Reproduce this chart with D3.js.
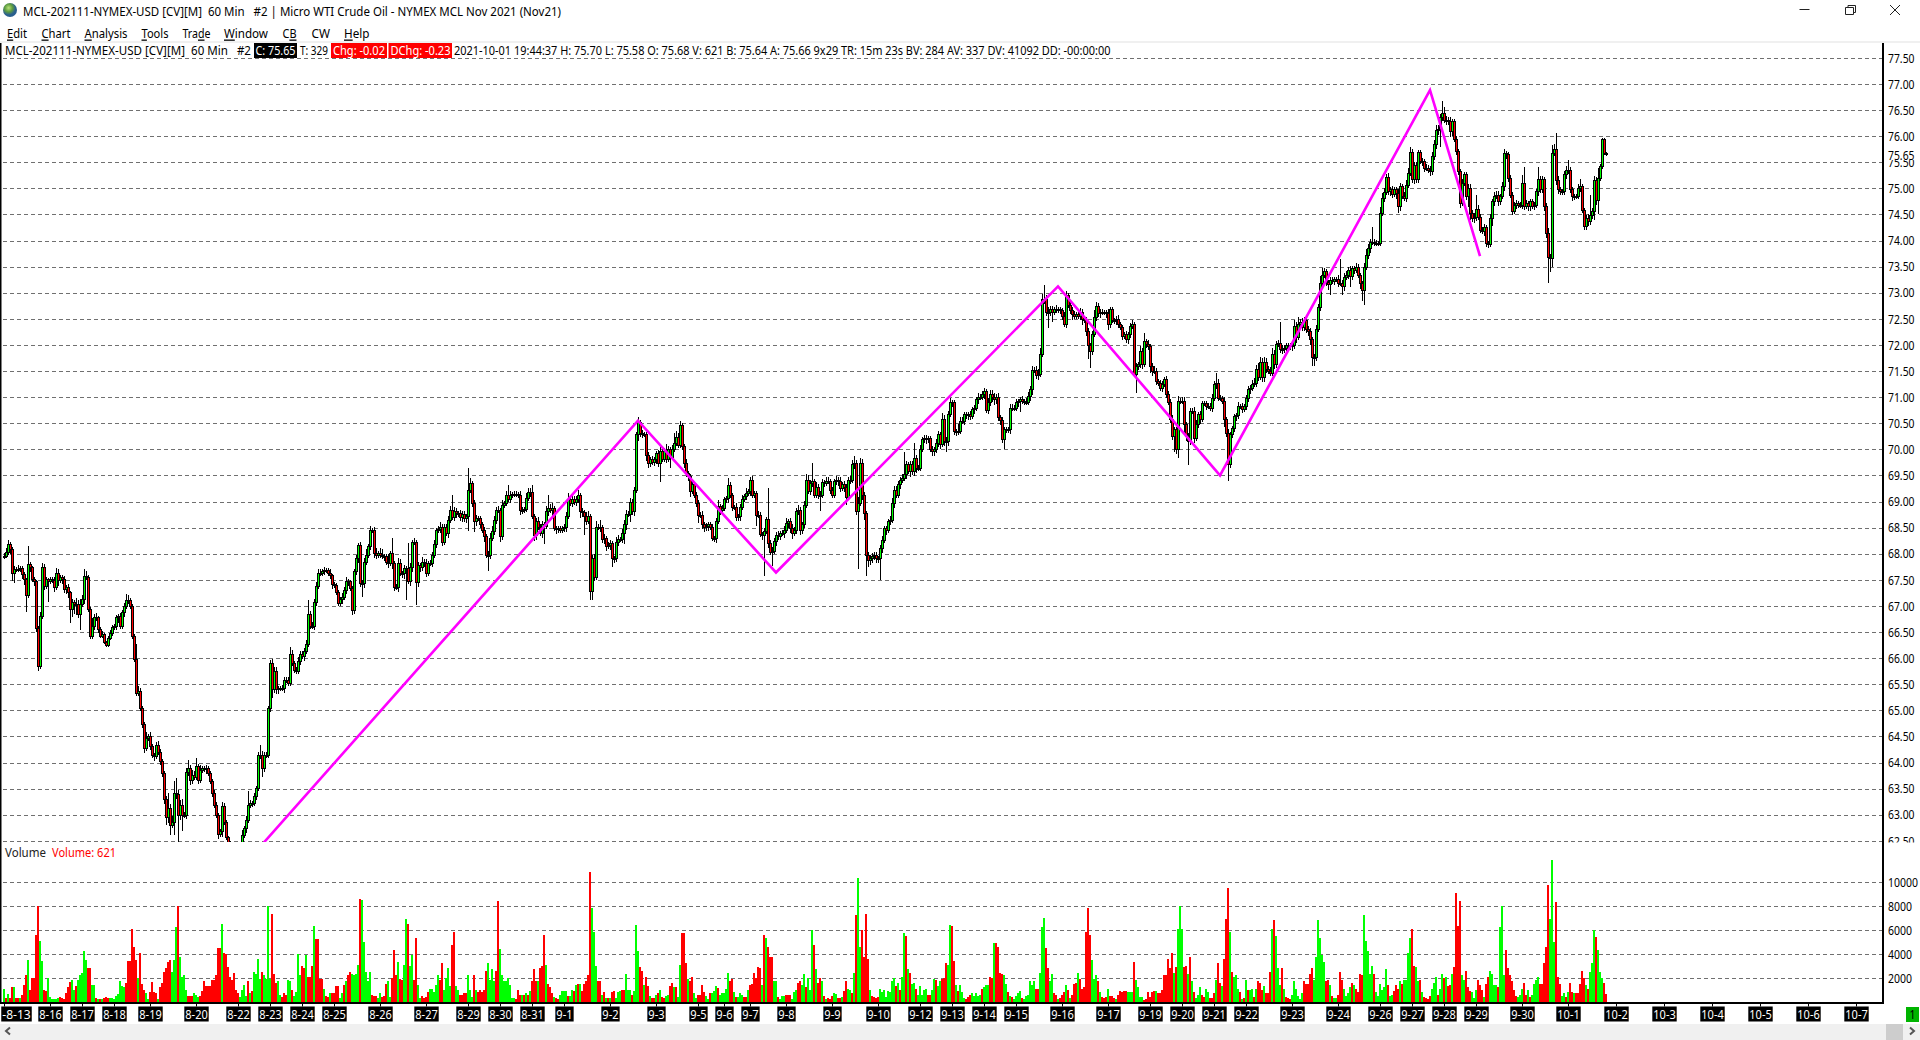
<!DOCTYPE html>
<html lang="en">
<head>
<meta charset="UTF-8">
<title>MCL-202111-NYMEX-USD 60 Min</title>
<script src="https://d3js.org/d3.v7.min.js"></script>
<style>
  html, body { margin: 0; padding: 0; background: #fff; overflow: hidden; }
  svg { display: block; }
  text { font-family: "Noto Sans", "Open Sans", sans-serif; font-size: 13px; fill: #000; white-space: pre; }
  .grid line { stroke: #707070; stroke-dasharray: 4 3; shape-rendering: crispEdges; }
  .grid path { display: none; }
</style>
</head>
<body>
<svg width="1920" height="1040"></svg>
<script>
// closing price of every 60 min bar, 20 per line
const closes = [
67.95,68.02,68.18,68.08,67.63,67.70,67.70,67.70,67.71,67.60,67.50,67.20,67.79,67.73,67.50,67.47,66.56,65.84,66.80,67.73,
67.38,67.50,67.47,67.50,67.49,67.35,67.63,67.49,67.54,67.50,67.31,67.35,67.25,66.93,67.06,67.03,67.03,66.83,67.03,67.12,
67.57,67.54,66.93,66.42,66.61,66.77,66.77,66.54,66.42,66.45,66.30,66.24,66.38,66.48,66.58,66.61,66.77,66.79,66.61,66.87,
66.99,67.10,67.10,66.99,66.42,65.97,65.33,65.36,65.04,64.72,64.27,64.46,64.49,64.30,64.14,64.11,64.33,64.20,64.01,63.79,
63.29,62.95,63.11,62.79,62.86,63.40,63.39,62.99,63.18,62.99,62.99,63.80,63.88,63.66,63.76,63.72,63.92,63.66,63.85,63.88,
63.86,63.88,63.79,63.63,63.40,63.18,62.99,62.62,62.67,63.16,62.86,62.57,62.44,62.30,62.20,62.15,62.20,62.30,62.40,62.60,
62.73,62.89,63.18,63.21,63.21,63.34,63.50,64.14,64.14,63.88,64.14,64.14,65.04,65.90,65.39,65.74,65.39,65.42,65.42,65.42,
65.58,65.58,65.52,66.06,65.90,65.77,65.74,65.94,66.06,66.03,66.13,66.26,66.83,66.61,66.61,67.06,67.38,67.62,67.62,67.65,
67.68,67.68,67.63,67.58,67.41,67.39,67.26,67.04,67.12,67.17,67.30,67.47,67.46,67.33,66.91,67.65,67.90,68.16,67.42,67.42,
67.84,67.97,68.13,68.45,68.45,68.00,67.97,68.00,67.97,67.94,67.95,67.84,67.81,68.00,67.81,67.36,67.36,67.81,67.62,67.62,
67.71,67.71,67.46,67.74,68.22,68.22,67.44,67.78,67.74,67.84,67.81,67.63,67.81,67.82,67.97,68.18,68.44,68.46,68.51,68.22,
68.51,68.39,68.64,68.82,68.69,68.80,68.77,68.77,68.69,68.76,68.67,68.72,69.22,69.35,68.97,68.61,68.67,68.67,68.55,68.45,
68.32,67.97,67.97,68.29,68.42,68.64,68.83,68.83,68.32,68.93,68.96,69.12,69.04,69.12,69.14,69.14,69.14,69.12,68.82,68.83,
68.85,69.06,69.17,69.17,68.72,68.35,68.61,68.51,68.39,68.55,68.53,68.80,68.87,68.83,68.87,68.48,68.46,68.48,68.45,68.48,
68.50,68.71,69.04,68.97,69.03,68.99,69.03,69.12,68.80,68.78,68.71,68.61,68.71,67.28,67.90,67.55,68.50,68.50,68.50,68.27,
68.29,68.14,68.16,68.19,67.90,67.90,68.22,68.27,68.27,68.39,68.55,68.76,68.76,68.99,68.80,69.22,70.28,70.51,70.31,70.28,
70.28,69.89,69.72,69.80,69.74,69.80,69.92,69.73,69.96,69.81,69.96,69.81,69.99,69.85,69.99,70.12,70.23,70.08,70.45,70.05,
69.73,69.53,69.48,69.19,69.32,69.12,68.96,68.74,68.74,68.55,68.51,68.53,68.55,68.51,68.29,68.29,68.61,68.90,68.83,68.87,
69.03,69.06,69.30,69.12,68.89,68.89,68.69,68.71,68.89,69.04,69.09,69.16,69.19,69.41,69.12,69.16,68.74,68.74,68.37,68.35,
68.42,68.66,68.19,68.03,68.05,68.23,68.35,68.32,68.39,68.39,68.45,68.58,68.61,68.48,68.39,68.45,68.80,68.83,68.44,68.55,
68.93,69.41,69.19,69.35,69.38,69.12,69.27,69.12,69.12,69.36,69.35,69.38,69.38,69.22,69.12,69.38,69.41,69.38,69.25,69.32,
69.27,69.08,69.41,69.41,69.70,69.73,68.80,68.96,69.73,69.12,68.77,67.97,67.87,67.90,67.94,67.97,67.90,67.90,68.10,68.26,
68.48,68.45,68.61,68.64,68.96,69.22,69.12,69.32,69.41,69.44,69.51,69.70,69.57,69.70,69.57,69.83,69.64,69.64,69.99,70.18,
70.21,70.18,70.21,70.00,69.96,69.99,70.12,70.28,70.10,70.58,70.15,70.15,70.66,70.89,70.89,70.34,70.34,70.34,70.53,70.53,
70.66,70.64,70.66,70.63,70.76,70.79,70.95,71.00,71.00,71.05,71.10,70.75,70.90,71.05,71.00,70.95,71.00,70.60,70.55,70.18,
70.37,70.37,70.37,70.79,70.79,70.79,70.89,70.92,70.95,70.92,70.90,70.89,71.01,71.14,71.51,71.51,71.41,71.43,71.82,72.87,
72.87,72.62,72.62,72.67,72.63,72.67,72.68,72.67,72.65,72.55,72.39,72.94,72.76,72.65,72.58,72.55,72.58,72.55,72.63,72.49,
72.46,72.26,71.98,71.88,72.20,72.52,72.74,72.60,72.63,72.62,72.62,72.60,72.39,72.67,72.46,72.46,72.49,72.39,72.33,72.17,
72.20,72.10,72.20,72.36,72.39,71.43,71.59,71.62,71.88,71.62,72.07,72.01,71.96,71.59,71.49,71.49,71.30,71.27,71.17,71.24,
71.33,71.05,70.89,70.57,70.24,70.37,69.99,70.92,70.92,70.92,70.47,70.24,70.15,70.73,70.73,70.21,70.47,70.66,70.57,70.87,
70.87,70.82,70.82,70.79,70.98,71.24,71.27,70.98,70.98,70.92,70.57,70.31,69.70,70.28,70.39,70.63,70.64,70.82,70.82,70.76,
70.82,70.98,71.14,71.17,71.24,71.27,71.53,71.37,71.66,71.37,71.66,71.53,71.49,71.46,71.82,71.62,72.01,72.03,71.91,71.91,
71.94,71.98,71.98,71.96,71.98,72.36,72.14,72.39,72.42,72.33,72.46,72.30,72.26,72.10,71.75,71.75,72.30,72.72,73.17,73.33,
73.40,73.20,73.16,73.24,73.22,73.25,73.26,73.18,73.18,73.11,73.30,73.33,73.43,73.31,73.46,73.43,73.49,73.33,73.18,73.04,
73.49,73.72,73.85,73.97,73.97,73.95,73.95,73.95,74.52,74.81,74.92,75.21,74.93,74.97,74.89,74.97,74.90,74.65,75.03,74.85,
74.81,75.06,75.29,75.68,75.16,75.43,75.16,75.68,75.51,75.51,75.38,75.38,75.35,75.32,75.61,75.83,76.11,76.12,76.35,76.43,
76.30,76.30,76.28,76.09,76.28,75.93,75.70,75.32,74.71,75.10,75.26,74.84,75.00,74.52,74.42,74.44,74.60,74.45,74.20,74.17,
74.25,73.94,73.93,74.42,74.74,74.85,74.87,74.74,74.84,75.03,75.67,75.64,75.19,74.87,74.55,74.68,74.71,74.68,74.68,75.10,
74.65,74.71,74.65,74.74,74.65,74.68,74.93,75.16,74.97,75.16,74.65,74.13,73.68,73.65,75.67,75.74,75.15,74.98,74.93,74.93,
75.26,75.35,75.35,74.97,74.84,74.84,74.84,75.00,75.03,74.57,74.26,74.42,74.36,74.47,74.55,75.15,74.76,75.19,75.42,75.94,
75.67,75.65
];

// wick length above the body, in cents
const upperWicks = [
6,8,8,5,4,6,5,8,5,5,4,3,35,5,4,6,3,5,8,10,
8,5,4,6,5,6,10,8,6,5,8,5,6,4,8,5,12,8,10,8,
13,10,6,5,15,8,10,3,5,6,3,3,5,5,5,4,5,5,8,5,
6,13,10,5,4,5,30,10,6,5,6,12,6,10,5,5,6,8,5,5,
5,6,30,10,12,25,30,8,10,12,6,10,16,8,10,8,16,6,10,5,
6,8,5,5,5,8,6,5,6,8,6,4,3,5,5,5,5,5,8,10,
5,8,28,8,6,8,5,6,20,8,6,6,5,6,8,8,8,5,5,6,
6,6,5,15,10,5,5,8,8,8,6,8,28,8,8,8,8,8,8,6,
6,5,5,8,4,5,4,5,5,8,6,8,5,3,5,6,8,5,6,8,
8,12,5,8,5,6,10,5,10,12,5,4,15,5,30,5,6,10,8,5,
8,5,50,8,5,8,5,6,5,10,5,8,5,6,6,8,6,8,10,5,
6,5,8,10,30,10,8,5,6,5,5,4,43,10,5,5,8,5,5,5,
6,5,8,10,12,8,6,8,5,10,5,8,20,8,5,6,6,5,8,6,
5,10,8,8,15,5,8,10,6,8,5,12,25,8,10,5,6,5,5,5,
6,8,12,6,10,8,8,10,5,8,6,8,10,5,8,10,12,6,15,5,
8,5,6,8,5,6,10,8,5,8,10,8,6,8,6,5,6,10,5,6,
5,5,5,5,8,6,5,6,10,8,6,15,8,6,10,20,12,8,10,5,
5,8,5,5,8,6,6,6,5,8,6,5,6,5,5,5,8,12,6,6,
6,5,15,8,5,5,8,6,6,8,6,10,5,6,8,5,5,8,6,5,
8,5,60,8,8,8,6,8,5,6,8,10,6,8,8,6,8,10,6,5,
8,12,10,6,35,6,10,6,8,8,6,8,8,5,6,6,8,5,8,6,
8,6,5,8,10,15,6,12,10,8,6,5,6,8,8,6,6,5,6,8,
5,6,6,8,10,8,8,8,5,8,43,8,6,8,8,30,6,6,10,6,
6,6,5,5,6,6,8,8,6,12,8,8,8,10,6,6,5,15,8,8,
5,5,6,8,5,6,5,8,5,6,8,6,8,8,8,8,6,8,5,6,
6,5,6,8,8,5,8,5,5,8,5,8,8,8,8,6,8,10,12,10,
27,8,10,8,8,6,8,5,5,5,8,10,6,8,8,6,5,5,8,6,
5,8,6,5,6,15,8,6,6,5,5,5,8,5,6,5,6,8,5,6,
5,6,5,6,8,5,6,5,10,6,15,5,8,5,6,10,6,5,5,6,
5,8,6,8,8,6,6,10,6,8,8,5,8,6,6,8,10,6,8,5,
5,6,6,6,8,6,20,8,6,5,8,5,8,6,5,5,5,8,5,6,
5,6,8,6,8,10,8,12,10,8,10,8,6,8,12,8,6,6,40,8,
6,6,5,5,8,12,8,15,8,10,8,8,6,6,5,8,8,6,15,15,
8,6,5,6,6,5,5,8,47,6,8,8,6,8,5,6,8,6,5,5,
8,12,8,6,29,5,6,5,12,10,8,6,8,5,8,5,6,8,8,6,
8,10,10,12,8,8,8,6,6,8,6,8,6,8,8,10,10,10,8,25,
12,8,6,8,5,5,8,6,5,8,6,6,8,8,6,8,27,8,6,5,
6,5,5,8,6,8,8,8,6,10,8,5,5,6,6,5,6,5,5,15,
30,6,5,5,5,6,6,25,8,8,6,6,10,6,15,10,32,8,5,5,
8,8,20,6,5,5,5,8,14,6,5,6,8,40,8,8,6,20,5,2,
2,2
];

// wick length below the body, in cents
const lowerWicks = [
5,3,5,8,15,20,6,5,5,8,10,32,5,8,5,8,6,8,5,6,
8,6,40,6,5,8,5,10,5,8,6,8,10,25,15,18,20,6,30,6,
8,5,5,5,5,8,5,5,3,3,3,3,3,3,5,5,8,10,5,6,
8,5,6,5,5,5,6,5,5,6,8,5,5,6,5,8,5,6,5,6,
8,15,10,18,5,25,8,58,10,30,6,8,6,10,8,6,5,8,5,5,
5,8,5,5,6,5,5,8,5,10,6,5,5,5,5,5,5,5,5,5,
5,8,5,5,6,5,6,5,8,15,6,5,5,8,15,6,8,8,5,5,
8,5,5,6,5,5,5,5,8,5,8,5,5,6,5,8,6,5,5,5,
6,5,5,6,8,5,6,5,5,8,6,8,8,5,8,6,5,8,6,25,
8,6,5,6,5,8,8,6,5,5,8,6,8,5,10,8,6,10,5,8,
10,60,5,8,10,6,43,8,10,8,6,8,5,5,8,6,8,5,6,8,
6,5,8,6,5,6,8,6,6,8,6,8,28,5,8,20,8,5,6,5,
10,6,30,8,5,6,8,5,10,5,5,5,5,6,5,5,5,6,8,6,
5,6,5,8,5,10,8,6,6,8,35,6,8,5,10,5,8,6,6,5,
6,8,5,6,8,5,8,6,12,8,35,6,5,17,17,8,5,5,8,6,
8,8,5,8,15,8,6,8,5,6,20,10,5,15,6,8,6,12,8,6,
5,12,8,6,5,6,8,6,35,6,5,8,6,20,6,5,6,5,6,6,
8,6,8,10,5,6,6,15,6,8,10,8,10,6,5,6,8,5,8,5,
5,5,8,6,8,5,6,6,8,5,5,6,6,8,5,6,20,6,5,8,
78,5,8,6,27,6,8,5,6,5,8,6,8,8,10,6,8,5,8,6,
5,5,5,6,8,5,6,8,30,6,8,6,5,8,6,5,6,8,6,5,
8,15,6,8,6,8,5,110,5,10,12,40,12,8,8,6,8,8,40,8,
6,10,5,6,5,8,6,6,8,6,5,8,5,10,6,8,10,5,6,5,
6,8,5,6,8,8,6,8,10,5,8,20,8,5,8,6,8,6,5,5,
6,5,8,6,5,8,6,8,5,6,8,5,8,8,10,10,8,6,8,5,
18,6,5,8,5,6,5,8,20,5,6,5,5,8,10,5,6,8,5,5,
8,6,30,6,20,6,5,5,6,8,5,6,5,5,10,6,5,6,8,10,
5,8,25,33,8,5,6,6,8,5,5,8,10,6,5,6,8,6,5,8,
5,6,8,6,6,5,35,8,6,8,5,6,6,12,8,5,6,5,6,8,
5,6,5,6,6,30,8,16,5,6,15,8,45,6,5,8,6,6,8,5,
5,6,5,6,8,5,8,5,6,6,15,8,30,5,6,5,8,6,5,6,
5,6,8,8,6,5,8,6,5,8,8,6,5,6,5,8,6,5,6,8,
6,5,5,6,8,6,10,5,8,6,6,8,8,10,15,15,5,5,8,6,
5,8,10,20,6,8,5,8,6,15,8,5,6,20,6,8,6,5,10,20,
28,6,8,8,5,5,6,5,6,6,8,5,6,8,8,6,10,12,8,5,
5,8,6,5,5,8,6,6,5,8,6,5,6,8,6,6,8,8,33,6,
5,8,6,10,8,5,6,6,8,5,5,6,20,12,6,8,6,5,6,5,
8,6,8,6,15,8,5,8,6,5,8,8,6,5,6,5,8,5,6,8,
6,5,8,8,5,6,6,8,6,6,8,8,50,25,15,5,8,8,5,6,
6,8,8,6,8,6,5,5,8,5,6,5,8,6,5,15,8,25,5,5,
4,3
];

// bar volume, negative = red bar, 20 per line
const signedVolumes = [
1050,-300,650,-350,-1250,1250,-350,-350,300,-550,-1400,-2250,3500,-1000,-2000,-2000,-5600,-8000,5100,3400,
-1000,-900,2000,400,200,200,200,350,-400,-300,-250,-700,-1200,-1650,1800,1000,-1300,1800,2200,2400,
4200,3500,-2800,-2800,1400,1400,-300,200,-200,200,-350,-400,-300,300,300,200,500,650,1700,1300,
1200,-1600,-3400,-3400,-6100,-4600,-3500,2000,-4100,-1500,-1000,700,250,-800,-1650,-800,-700,200,-1200,-1600,
-2500,-2800,-3300,-3500,2500,3500,6200,-8000,3700,2100,2200,1000,-500,-500,-500,700,600,400,-500,-900,
-1700,-1300,-1300,-1300,-1800,-1800,-2200,-4500,-4500,6500,-4100,-4000,-2900,-2100,-1800,-2400,-1000,-700,400,1000,
1400,500,-1700,700,-900,2500,2300,3600,1900,-2500,2200,1900,8000,1900,-7300,-2300,-1600,1700,550,-400,
-700,-550,1800,1700,-1000,450,850,4000,2200,-3000,-2800,3900,-2100,-2100,-3000,6300,-5200,-5200,-1900,-1900,
1100,-500,-400,700,-750,-750,-1350,-1350,350,750,-1400,1700,-2200,-2500,2300,2200,2300,3100,-8600,8500,
5000,2500,1700,2500,-600,-500,-450,300,750,-400,-450,-1500,1700,400,-2000,-4300,-2200,3300,-1900,-1800,
3100,6900,-6500,3000,3900,-1800,-5300,1400,300,-500,-300,-400,-800,1100,1100,800,1400,2200,-1800,-3200,
1000,2000,2800,1300,-4700,-5800,1300,1000,-600,-600,-700,-700,2200,1000,400,-2200,1000,-800,-1000,-800,
-1000,-2600,3200,1800,2700,1700,-2600,-8400,4400,2200,1700,1700,2000,1400,350,300,-250,-1000,-600,600,
-600,700,-600,900,-1700,-2700,-1700,1700,-2800,-3000,-5600,3100,-1500,-1200,-700,400,-300,-200,600,900,
900,900,-500,500,1000,-900,1400,-1500,1500,-900,-1500,-1700,-2200,-10800,7800,5800,3000,-1700,-1700,600,
-800,350,-300,300,-800,-900,350,800,900,-1000,-1000,2300,1000,1000,-600,900,6400,4200,-2900,-2600,
1400,-2100,-1300,500,-350,-300,600,-750,1000,-400,-350,500,550,-1300,-1600,1200,-1200,400,3100,-5700,
-5700,-3200,1900,-1700,-2100,700,300,-600,-600,-1400,-800,500,250,-700,700,900,1300,-1150,600,750,
750,1100,2400,-1700,-1900,800,-400,400,700,550,-400,-400,1000,-1400,-1500,-2400,-2000,-2900,-2800,1400,
-5600,5300,-4600,-3700,-3700,1700,1700,-400,200,450,500,-550,-550,-550,200,800,1000,-1600,-1700,1400,
2300,-1200,2000,1000,6000,-4700,2700,-1600,-2000,1700,-500,200,-300,-250,-500,700,650,-300,-300,400,
-900,-1700,1100,1000,-700,2400,-7200,10300,4600,-6000,-3700,-7300,-3600,1000,-500,-400,-300,-400,1100,800,
1000,400,900,800,1700,2000,-1300,1600,-1000,2100,5700,-5500,2700,-2400,1500,1600,-1100,600,1300,600,
1000,1100,-600,-600,1000,1900,-1800,1300,1700,-1900,-2000,-3200,3100,6400,-6300,-3400,1400,-900,1400,800,
300,-200,-400,-600,700,500,700,500,600,-1100,1200,1400,1400,-2100,-2000,4900,-4900,-4600,-2400,-2300,
2200,1500,-800,500,-400,200,500,700,900,-300,200,500,600,1700,1400,1700,-1100,-1100,2400,6200,
7000,-4500,-2800,1700,2300,-700,-600,250,-300,-600,-800,1400,-1000,300,-600,-1500,-1600,2400,-1900,-1100,
-1200,-5800,-7800,-5600,3500,1900,2200,-1700,800,-400,-300,-400,1100,-500,-500,-300,200,-600,-900,-800,
-900,-900,800,800,800,-3300,1800,1200,400,400,-150,-200,-800,-400,-800,-900,900,-700,-700,-1000,
-2200,-2200,-3600,-2800,-4100,2400,-2900,6100,8000,6100,-2900,-3000,2300,-3700,1700,-800,350,600,1200,-600,
-400,1100,800,-300,-300,-700,1800,-3200,-1600,1300,-3600,-6900,-9500,5800,-2500,2100,2200,1100,-800,250,
-300,1800,-1000,1000,1100,-400,1100,-1700,-1600,-1000,1300,-700,-700,-2500,6100,-6800,5500,2800,1400,-2800,
1100,-400,-300,-200,600,1700,1100,500,200,700,-1700,-1500,-1500,-2300,-2800,1800,3700,6800,5300,3900,
3300,-1700,-1800,1400,-500,350,350,-600,-2500,-1800,1100,500,700,1200,-1600,1400,-1100,-800,-2300,-2200,
7200,5100,4200,2300,3000,-2300,800,500,1500,950,1200,2700,-1400,500,550,-900,-1400,-1100,1700,-1500,
1800,1800,4100,5300,-6100,-3000,2900,1700,-1800,800,-400,-350,-250,-500,1100,1600,2100,-600,1100,2300,
-2000,2100,-1300,-1400,2300,-2900,-9100,-6300,-8400,2200,1800,-2600,-1200,-900,800,300,1000,-1800,-1400,-1000,
400,-1500,-2100,2600,2300,1400,1400,-1200,6200,8000,2200,-4300,-2800,-2200,-1700,-1000,-500,400,600,1100,
-1600,-600,1000,-400,600,1500,1800,2100,-1500,-1500,-3200,-4600,-9700,6900,11800,5000,-8300,-2100,-1500,500,
700,-400,800,-1600,-800,700,-700,-700,-1500,-2600,-2000,1400,-1100,2500,3200,6000,-5400,4300,2500,2000,
-1600,-621
];

const priceTicks = [62.5,63,63.5,64,64.5,65,65.5,66,66.5,67,67.5,68,68.5,69,69.5,70,70.5,71,71.5,72,72.5,73,73.5,74,74.5,75,75.5,76,76.5,77,77.5];
const volumeTicks = [2000,4000,6000,8000,10000];
const dateLabels = ["-8-13","8-16","8-17","8-18","8-19","8-20","8-22","8-23","8-24","8-25","8-26","8-27","8-29","8-30","8-31","9-1","9-2","9-3","9-5","9-6","9-7","9-8","9-9","9-10","9-12","9-13","9-14","9-15","9-16","9-17","9-19","9-20","9-21","9-22","9-23","9-24","9-26","9-27","9-28","9-29","9-30","10-1","10-2","10-3","10-4","10-5","10-6","10-7"];
const dateBars = [0,23,39,55,73,96,117,133,149,165,188,211,232,248,264,280,303,326,347,360,373,391,414,437,458,474,490,506,529,552,573,589,605,621,644,667,688,704,720,736,759,782,806,830,854,878,902,926];

// magenta swing line: bar index and price of each pivot
const swingBars = [130,317,386,527,608,713,738];
const swingPrices = [62.47,70.55,67.64,73.12,69.50,76.88,73.70];

const lastPrice = 75.65;
const menuItems = [["Edit","E",7,20],["Chart","C",41.5,29],["Analysis","A",84.5,43],["Tools","T",141.5,27],["Trade","d",182.5,28],["Window","W",224,44],["CB","B",282.5,14],["CW","",311.5,18.5],["Help","H",344,25.5]];

const svg = d3.select("svg");
const x = d3.scaleLinear().domain([0, 926]).range([4, 1856]);
const yPrice = d3.scaleLinear().domain([62.5, 77.5]).range([840.8, 57.8]);
const yVolume = d3.scaleLinear().domain([0, 10000]).range([1001.8, 881.8]);
const axisX = 1883;

function label(parent, px, py, str, width, color) {
  const t = parent.append("text")
    .attr("x", px).attr("y", py).attr("dominant-baseline", "central")
    .attr("textLength", width).attr("lengthAdjust", "spacingAndGlyphs")
    .text(str);
  if (color) t.style("fill", color);
  return t;
}

// window chrome
const grad = svg.append("defs").append("radialGradient").attr("id", "globe").attr("cx", "40%").attr("cy", "35%");
grad.append("stop").attr("offset", "0%").attr("stop-color", "#b7e27a");
grad.append("stop").attr("offset", "55%").attr("stop-color", "#5f9e3f");
grad.append("stop").attr("offset", "100%").attr("stop-color", "#2a5f8e");
svg.append("circle").attr("cx", 10).attr("cy", 10).attr("r", 7).attr("fill", "url(#globe)");
label(svg, 23, 11, "MCL-202111-NYMEX-USD [CV][M]  60 Min   #2 | Micro WTI Crude Oil - NYMEX MCL Nov 2021 (Nov21)", 538);

menuItems.forEach(([name, key, px, w]) => {
  const t = label(svg, px, 32.5, "", w);
  const k = key ? name.indexOf(key) : -1;
  if (k < 0) { t.text(name); return; }
  t.append("tspan").text(name.slice(0, k));
  t.append("tspan").style("text-decoration", "underline").text(name[k]);
  t.append("tspan").text(name.slice(k + 1));
});

const win = svg.append("g").attr("stroke", "#222").attr("fill", "none").attr("stroke-width", 1);
win.append("path").attr("d", "M1799.5 9.5H1809.5");
win.append("path").attr("d", "M1845.5 7.5H1853.5V14.5H1845.5ZM1848 7V5.5H1855.5V12.5H1853.5");
win.append("path").attr("d", "M1890 5L1900 15M1900 5L1890 15");
svg.append("rect").attr("x", 0).attr("y", 41).attr("width", 1920).attr("height", 2).attr("fill", "#f0f0f0");

// price pane grid and labels
const priceAxis = svg.append("g").attr("class", "grid").attr("transform", `translate(${axisX},0)`)
  .call(d3.axisRight(yPrice).tickValues(priceTicks).tickFormat(d3.format(".2f")).tickSize(-1880).tickSizeOuter(0).tickPadding(5));
priceAxis.selectAll("text").attr("textLength", 26.5).attr("lengthAdjust", "spacingAndGlyphs").attr("x", 5).attr("dy", "0.33em");

// volume pane grid and labels
svg.append("rect").attr("x", 0).attr("y", 842.5).attr("width", 1920).attr("height", 30).attr("fill", "#fff");
const volumeAxis = svg.append("g").attr("class", "grid").attr("transform", `translate(${axisX},0)`)
  .call(d3.axisRight(yVolume).tickValues(volumeTicks).tickFormat(d => d).tickSize(-1880).tickSizeOuter(0).tickPadding(5));
volumeAxis.selectAll("text").attr("x", 5).attr("dy", "0.33em").attr("textLength", d => d === 10000 ? 30 : 24).attr("lengthAdjust", "spacingAndGlyphs");

// current price flag sits over the 75.50 label
svg.append("rect").attr("x", 1885).attr("y", 149).attr("width", 33).attr("height", 11).attr("fill", "#fff");
label(svg, 1888, 155, d3.format(".2f")(lastPrice), 26.5);

svg.append("clipPath").attr("id", "pricePane").append("rect").attr("x", 2).attr("y", 43).attr("width", 1880).attr("height", 799);

// candles
const bars = closes.map((c, i) => {
  const open = i ? closes[i - 1] : c;
  return {
    i, close: c, open,
    high: Math.max(open, c) + upperWicks[i] / 100,
    low: Math.min(open, c) - lowerWicks[i] / 100
  };
});
const candles = svg.append("g").attr("clip-path", "url(#pricePane)").attr("shape-rendering", "crispEdges");
candles.selectAll("rect.wick").data(bars).join("rect").attr("class", "wick")
  .attr("x", d => x(d.i)).attr("width", 1)
  .attr("y", d => yPrice(d.high)).attr("height", d => yPrice(d.low) - yPrice(d.high))
  .attr("fill", "#000");
candles.selectAll("rect.body").data(bars).join("rect").attr("class", "body")
  .attr("x", d => x(d.i) - 0.5).attr("width", 2)
  .attr("y", d => yPrice(Math.max(d.open, d.close)))
  .attr("height", d => Math.max(1, Math.abs(yPrice(d.open) - yPrice(d.close))))
  .attr("fill", d => d.close >= d.open ? "#00ff00" : "#ff0000")
  .attr("stroke", "#000").attr("stroke-width", 1);

// swing line
const swing = d3.line().x(d => x(swingBars[d])).y(d => yPrice(swingPrices[d]));
svg.append("path").attr("clip-path", "url(#pricePane)")
  .attr("d", swing(swingBars.map((d, i) => i)))
  .attr("fill", "none").attr("stroke", "#ff00ff").attr("stroke-width", 2.6);

// header line
label(svg, 5, 50, "MCL-202111-NYMEX-USD [CV][M]  60 Min   #2", 246);
svg.append("rect").attr("x", 254).attr("y", 43).attr("width", 43).attr("height", 15).attr("fill", "#000");
label(svg, 255.5, 50, "C: 75.65", 40, "#fff");
label(svg, 300, 50, "T: 329", 28);
svg.append("rect").attr("x", 331).attr("y", 43).attr("width", 56).attr("height", 15).attr("fill", "#ff0000");
label(svg, 333, 50, "Chg: -0.02", 52, "#fff");
svg.append("rect").attr("x", 388.5).attr("y", 43).attr("width", 63.5).attr("height", 15).attr("fill", "#ff0000");
label(svg, 390.5, 50, "DChg: -0.23", 60, "#fff");
label(svg, 454, 50, "2021-10-01 19:44:37 H: 75.70 L: 75.58 O: 75.68 V: 621 B: 75.64 A: 75.66 9x29 TR: 15m 23s BV: 284 AV: 337 DV: 41092 DD: -00:00:00", 656.5);

// volume bars
svg.append("g").attr("shape-rendering", "crispEdges")
  .selectAll("rect").data(signedVolumes).join("rect")
  .attr("x", (d, i) => x(i) - 1).attr("width", 2)
  .attr("y", d => yVolume(Math.abs(d))).attr("height", d => yVolume(0) - yVolume(Math.abs(d)))
  .attr("fill", d => d < 0 ? "#ff0000" : "#00ff00");

label(svg, 5, 852, "Volume", 41, "#222");
label(svg, 52, 852, "Volume: 621", 64, "#ff0000");

// frame lines
svg.append("rect").attr("x", 0).attr("y", 43).attr("width", 1.5).attr("height", 960).attr("fill", "#000");
svg.append("rect").attr("x", axisX - 1).attr("y", 43).attr("width", 2).attr("height", 961).attr("fill", "#000");

// bottom scroll bar
svg.append("rect").attr("x", 0).attr("y", 1024).attr("width", 1920).attr("height", 16).attr("fill", "#f0f0f0");
svg.append("rect").attr("x", 1886).attr("y", 1024).attr("width", 17).attr("height", 16).attr("fill", "#cdcdcd");
svg.append("path").attr("d", "M10 1027.5L6 1031L10 1034.5").attr("fill", "none").attr("stroke", "#555").attr("stroke-width", 2);
svg.append("path").attr("d", "M1910 1027.5L1914 1031L1910 1034.5").attr("fill", "none").attr("stroke", "#555").attr("stroke-width", 2);

// date axis
const dateLabelByBar = new Map(dateBars.map((b, i) => [b, dateLabels[i]]));
const dateAxis = svg.append("g").attr("transform", "translate(0,1002.5)")
  .call(d3.axisBottom(x).tickValues(dateBars).tickFormat(d => dateLabelByBar.get(d)).tickSize(4).tickSizeOuter(0));
dateAxis.select(".domain").attr("stroke", "#000").attr("stroke-width", 2).attr("d", `M0,0.5H${axisX}`);
dateAxis.selectAll(".tick line").attr("stroke", "#000");
dateAxis.selectAll(".tick").each(function (d) {
  const tick = d3.select(this);
  const t = tick.select("text");
  const str = dateLabelByBar.get(d);
  const w = str.length * 6.1;
  const dx = d === 0 ? 12 : 0;
  tick.insert("rect", "text").attr("x", dx - w / 2).attr("y", 4).attr("width", w).attr("height", 15).attr("fill", "#000");
  t.attr("x", dx).attr("y", 11).attr("dy", null).attr("dominant-baseline", "central")
    .attr("textLength", w - 2).attr("lengthAdjust", "spacingAndGlyphs")
    .style("fill", "#fff").style("font-family", "'Noto Sans'").style("font-size", "13px");
});

svg.append("rect").attr("x", 1906).attr("y", 1007).attr("width", 13).attr("height", 15).attr("fill", "#00b400");
label(svg, 1909.5, 1014, "1", 6);
</script>
</body>
</html>
